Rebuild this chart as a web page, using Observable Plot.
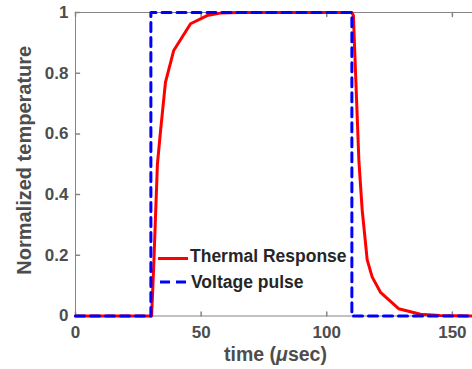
<!DOCTYPE html>
<html><head><meta charset="utf-8">
<script src="https://cdn.jsdelivr.net/npm/d3@7"></script>
<script src="https://cdn.jsdelivr.net/npm/@observablehq/plot@0.6"></script>
<style>body{margin:0;background:#fff;overflow:hidden}</style>
</head><body><div id="chart"></div>
<script>
// ---- data ----
const pulseTime  = [0, 30, 30, 110, 110, 160];
const pulseValue = [0, 0, 1, 1, 0, 0];
const thermalTime  = [0, 30.3, 31.2, 32.6, 33.8, 35.8, 39.1, 45.8, 52.4, 57.7, 65, 80, 110, 110.6, 112.8, 114.1, 116.1, 118.1, 121.4, 128.6, 137.3, 145, 160];
const thermalValue = [0, 0, 0.18, 0.5, 0.606, 0.77, 0.875, 0.963, 0.99, 0.998, 1, 1, 1, 0.99, 0.51, 0.35, 0.185, 0.128, 0.078, 0.024, 0.006, 0.002, 0];
const xTicks = [0, 50, 100, 150];
const xTickLabels = ["0", "50", "100", "150"];
const yTicks = [0, 0.2, 0.4, 0.6, 0.8, 1];
const yTickLabels = ["0", "0.2", "0.4", "0.6", "0.8", "1"];
const seriesNames = ["Thermal Response", "Voltage pulse"];

const pulse = pulseTime.map((t, i) => ({t, v: pulseValue[i]}));
const thermal = thermalTime.map((t, i) => ({t, v: thermalValue[i]}));

const font = "Liberation Sans, Arial, Helvetica, sans-serif";
const axisColor = "#858585";
const labelColor = "#4d4d4d";
const tickShape = {draw(ctx, l) { ctx.moveTo(0, 0); ctx.lineTo(0, -l); }};

const chart = Plot.plot({
  width: 472, height: 369,
  marginLeft: 75, marginRight: 0, marginTop: 12, marginBottom: 53.5,
  style: {fontFamily: font, background: "#fff", overflow: "hidden"},
  x: {domain: [0, 160], range: [75, 477], axis: null},
  y: {domain: [0, 1], range: [315.5, 12], axis: null},
  marks: [
    // box lines
    Plot.ruleY([0, 1], {stroke: axisColor, strokeWidth: 1}),
    Plot.ruleX([0], {stroke: axisColor, strokeWidth: 1}),
    // inward ticks
    Plot.vector(xTicks, {x: d => d, y: 0, length: 4, rotate: 0, anchor: "start", shape: tickShape, stroke: axisColor}),
    Plot.vector(xTicks, {x: d => d, y: 1, length: 4, rotate: 180, anchor: "start", shape: tickShape, stroke: axisColor}),
    Plot.vector(yTicks, {x: 0, y: d => d, length: 4, rotate: 90, anchor: "start", shape: tickShape, stroke: axisColor}),
    // tick labels
    Plot.text(xTicks, {x: d => d, y: 0, dy: 17, text: (d, i) => xTickLabels[i], fontSize: 17, fontWeight: "bold", fill: labelColor}),
    Plot.text(yTicks, {x: 0, y: d => d, dx: -7, textAnchor: "end", text: (d, i) => yTickLabels[i], fontSize: 17, fontWeight: "bold", fill: labelColor}),
    // axis titles
    Plot.text(["time (μsec)"], {frameAnchor: "bottom", dx: 1.5, dy: 38.5, textAnchor: "middle", lineAnchor: "middle", text: d => d, fontSize: 19.5, fontWeight: "bold", fill: labelColor}),
    Plot.text(["Normalized temperature"], {frameAnchor: "left", dx: -51, dy: -4, rotate: -90, textAnchor: "middle", lineAnchor: "middle", text: d => d, fontSize: 20, fontWeight: "bold", fill: labelColor}),
    // series
    Plot.line(thermal, {x: "t", y: "v", stroke: "#ff0000", strokeWidth: 3}),
    Plot.line(pulse, {x: "t", y: "v", stroke: "#0000ff", strokeWidth: 3, strokeDasharray: "9,6"})
  ]
});
document.getElementById("chart").appendChild(chart);

// italic mu in the x title
const svg = d3.select(chart);
svg.selectAll("text").filter(function() { return this.textContent === "time (μsec)"; })
  .each(function() {
    const t = d3.select(this);
    t.text(null);
    t.append("tspan").text("time (");
    t.append("tspan").attr("font-style", "italic").text("μ");
    t.append("tspan").text("sec)");
  });

// legend
const lg = svg.append("g").attr("font-family", font).attr("font-size", 17.5).attr("font-weight", "bold").attr("fill", "#262626").attr("text-anchor", "start");
lg.append("line").attr("x1", 158).attr("x2", 188).attr("y1", 258.5).attr("y2", 258.5).attr("stroke", "#ff0000").attr("stroke-width", 3);
lg.append("line").attr("x1", 160).attr("x2", 187).attr("y1", 282).attr("y2", 282).attr("stroke", "#0000ff").attr("stroke-width", 3).attr("stroke-dasharray", "10,6");
lg.append("text").attr("x", 190).attr("y", 256).attr("dy", "0.35em").text(seriesNames[0]);
lg.append("text").attr("x", 191).attr("y", 282).attr("dy", "0.35em").text(seriesNames[1]);
</script>
</body></html>
